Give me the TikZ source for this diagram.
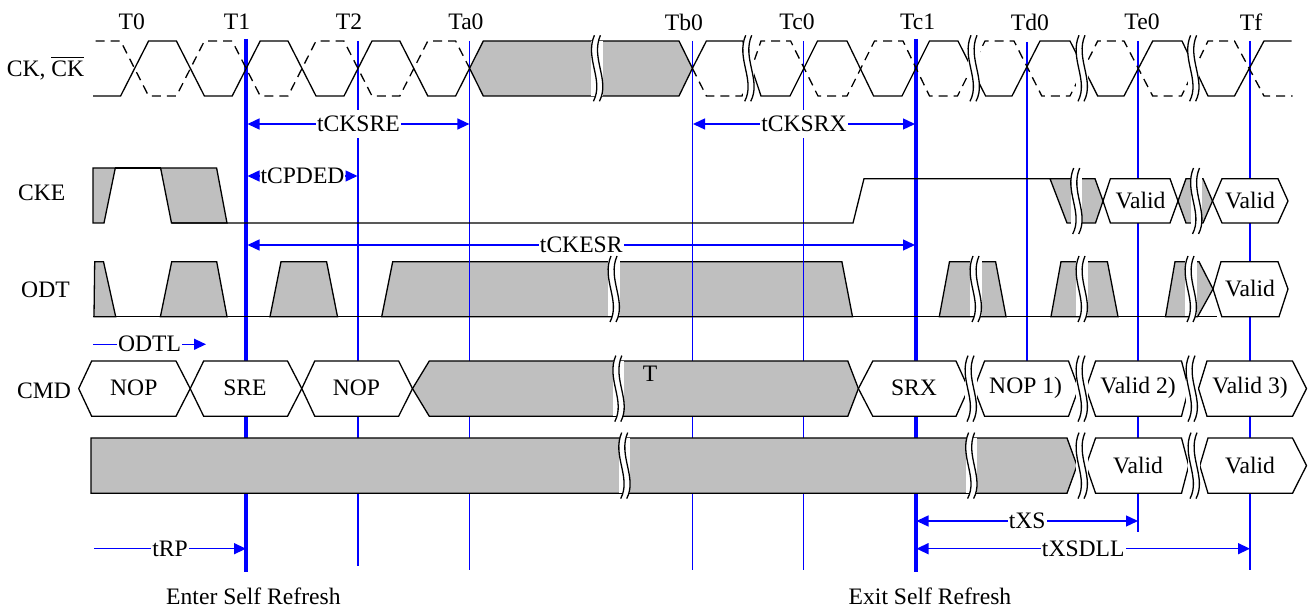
\documentclass[tikz,border=0pt]{standalone}
\usepackage{amsmath}
\usepackage{fontspec}
\setmainfont{Liberation Serif}
\usetikzlibrary{arrows.meta}
\definecolor{wavegray}{gray}{0.75}
\tikzset{
    every node/.style={font=\fontsize{11.8}{14}\selectfont,inner sep=0pt},
    wave/.style={black,line width=0.65pt,line join=miter},
    dashwave/.style={wave,dash pattern=on 4.5pt off 3pt},
    graybox/.style={wave,fill=wavegray},
    whitebox/.style={wave,fill=white},
    clockline/.style={blue,line width=0.7pt},
    edgeline/.style={blue,line width=2pt},
    timeline/.style={blue,line width=0.7pt,>={Triangle[length=6pt,width=5.5pt]}},
    timelabel/.style={fill=white,text=black,inner xsep=0.5pt,minimum height=14pt},
    breakmark/.pic={
        \fill[white] (-5,-27.5) rectangle (6.5,27.5);
        \fill[white] (-2,-33) .. controls (-12,-10) and (8,12) .. (-3,33) -- (3,33) .. controls (14,12) and (-6,-10) .. (4,-33) -- cycle;
        \draw[black,line width=0.65pt] (-2,-33) .. controls (-12,-10) and (8,12) .. (-3,33);
        \draw[black,line width=0.65pt] (4,-33) .. controls (-6,-10) and (14,12) .. (3,33);
    }
}
\begin{document}
\begin{tikzpicture}[x=0.5pt,y=-0.5pt]
    \useasboundingbox (0,0) rectangle (1314,608);
    % clock names
    \node (T0) at (131.7,22) {T0};
    \node (T1) at (237,22) {T1};
    \node (T2) at (349,22) {T2};
    \node (Ta0) at (466,22) {Ta0};
    \node (Tb0) at (684,22) {Tb0};
    \node (Tc0) at (797,22) {Tc0};
    \node (Tc1) at (917.7,22) {Tc1};
    \node (Td0) at (1030,22) {Td0};
    \node (Te0) at (1142,22) {Te0};
    \node (Tf) at (1251,22) {Tf};
    % row names
    \node (CKname) at (45.5,68) {CK, $\overline{\mbox{CK}}$};
    \node (CKEname) at (41.7,193) {CKE};
    \node (ODTname) at (45.5,290) {ODT};
    \node (CMDname) at (44,391) {CMD};
    \node (enter) at (253.4,596) {Enter Self Refresh};
    \node (exit) at (930,596) {Exit Self Refresh};
    % ODT pulses lie under the clock lines
    \draw[graybox] (94.7,261.7) -- (103.5,261.7) -- (115.7,316.7) -- (94,316.7) -- cycle;
    \draw[graybox] (171.7,261.7) -- (216.7,261.7) -- (227,316.7) -- (160.4,316.7) -- cycle;
    \draw[graybox] (281,261.7) -- (326.6,261.7) -- (337.5,316.7) -- (270,316.7) -- cycle;
    \draw[graybox] (392.7,261.7) -- (841.9,261.7) -- (852.5,316.7) -- (381.7,316.7) -- cycle;
    \draw[graybox] (949.5,261.7) -- (995.6,261.7) -- (1006,316.7) -- (939.3,316.7) -- cycle;
    \draw[graybox] (1061,261.7) -- (1107.4,261.7) -- (1118,316.7) -- (1051,316.7) -- cycle;
    \draw[graybox] (1175,261.7) -- (1199,261.7) -- (1213,289) -- (1197.6,316.7) -- (1165.5,316.7) -- cycle;
    % clock lines
    \coordinate (v1t) at (246.4,39);
    \coordinate (v1b) at (246.4,571.7);
    \coordinate (v2t) at (358,41);
    \coordinate (v2b) at (358,565.7);
    \coordinate (v3t) at (469.4,41);
    \coordinate (v3b) at (469.4,570);
    \coordinate (v4t) at (692.4,41);
    \coordinate (v4b) at (692.4,570);
    \coordinate (v5t) at (803.7,41);
    \coordinate (v5b) at (803.7,570);
    \coordinate (v6t) at (915.6,39);
    \coordinate (v6b) at (915.6,571.7);
    \coordinate (v7t) at (1027,42);
    \coordinate (v7b) at (1027,361);
    \coordinate (v8t) at (1138,41);
    \coordinate (v8b) at (1138,532);
    \coordinate (v9t) at (1250,41);
    \coordinate (v9b) at (1250,570);
    \draw[edgeline] (v1t) -- (v1b);
    \draw[clockline] (v2t) -- (v2b);
    \draw[clockline] (v3t) -- (v3b);
    \draw[clockline] (v4t) -- (v4b);
    \draw[clockline] (v5t) -- (v5b);
    \draw[edgeline] (v6t) -- (v6b);
    \draw[clockline] (v7t) -- (v7b);
    \draw[clockline] (v8t) -- (v8b);
    \draw[clockline] (v9t) -- (v9b);
    % timings
    \coordinate (a1) at (247.5,124);
    \coordinate (a2) at (469.4,124);
    \coordinate (b1) at (693,124);
    \coordinate (b2) at (915,124);
    \coordinate (c1) at (247.5,176);
    \coordinate (c2) at (357.5,176);
    \coordinate (d1) at (247.5,245);
    \coordinate (d2) at (915,245);
    \coordinate (e1) at (93,344.3);
    \coordinate (e2) at (206,344.3);
    \coordinate (f1) at (94,548.7);
    \coordinate (f2) at (246,548.7);
    \coordinate (g1) at (916.5,521);
    \coordinate (g2) at (1138,521);
    \coordinate (h1) at (916.5,548.7);
    \coordinate (h2) at (1250,548.7);
    \draw[timeline,<->] (a1) -- node[timelabel] (tCKSRE) {tCKSRE} (a2);
    \draw[timeline,<->] (b1) -- node[timelabel] (tCKSRX) {tCKSRX} (b2);
    \draw[timeline,<->] (c1) -- node[timelabel] (tCPDED) {tCPDED} (c2);
    \draw[timeline,<->] (d1) -- node[timelabel] (tCKESR) {tCKESR} (d2);
    \draw[timeline,->] (e1) -- node[timelabel] (ODTL) {ODTL} (e2);
    \draw[timeline,->] (f1) -- node[timelabel] (tRP) {tRP} (f2);
    \draw[timeline,<->] (g1) -- node[timelabel] (tXS) {tXS} (g2);
    \draw[timeline,<->] (h1) -- node[timelabel] (tXSDLL) {tXSDLL} (h2);
    % CK
    \draw[wave] (93,96) -- (120.6,96) -- (148.6,41) -- (176.4,41) -- (204.4,96) -- (232.2,96) -- (260.2,41) -- (288,41) -- (316,96) -- (344,96) -- (372,41) -- (399.8,41) -- (427.8,96) -- (455.6,96) -- (469.6,68.3);
    \draw[dashwave] (95.5,41) -- (120.6,41) -- (148.6,96) -- (176.4,96) -- (204.4,41) -- (232.2,41) -- (260.2,96) -- (288,96) -- (316,41) -- (344,41) -- (372,96) -- (399.8,96) -- (427.8,41) -- (455.6,41) -- (469.6,68.3);
    \draw[graybox] (469.6,68.3) -- (483.3,41) -- (679,41) -- (692.4,68.3) -- (679,96) -- (483.3,96) -- cycle;
    \draw[dashwave] (692.4,68.3) -- (706.4,96) -- (742,96) -- (761,41) -- (790.6,41) -- (818,96) -- (847,96) -- (874.5,41) -- (903,41) -- (929.5,96) -- (957.5,96) -- (985,41) -- (1014,41) -- (1041.8,96) -- (1070,96) -- (1097.7,41) -- (1124,41) -- (1152.7,96) -- (1181.5,96) -- (1208,41) -- (1234.5,41) -- (1264,96) -- (1292.5,96);
    \draw[wave] (692.4,68.3) -- (706.4,41) -- (742.8,41) -- (761,96) -- (790,96) -- (817.5,41) -- (847,41) -- (873.6,96) -- (902,96) -- (929.5,41) -- (958,41) -- (985.6,96) -- (1012,96) -- (1040,41) -- (1070,41) -- (1097.7,96) -- (1124,96) -- (1152.7,41) -- (1182,41) -- (1208,96) -- (1234.5,96) -- (1264,41) -- (1291.7,41);
    % CKE
    \draw[graybox] (93,168) -- (115.3,168) -- (104,223) -- (93,223) -- cycle;
    \draw[graybox] (160.6,168) -- (216.6,168) -- (227,223) -- (171.5,223) -- cycle;
    \draw[wave] (115.3,168) -- (160.6,168);
    \draw[wave] (171.5,223) -- (853,223) -- (864,178.7) -- (1050,178.7);
    \draw[graybox] (1050,178.7) -- (1095,178.7) -- (1103,201) -- (1095.5,223) -- (1067,223) -- cycle;
    \draw[whitebox] (1103,201) -- (1110.4,178.7) -- (1170,178.7) -- (1178,201) -- (1170,223) -- (1110.4,223) -- cycle;
    \draw[graybox] (1178,201) -- (1186,178.7) -- (1203,178.7) -- (1212.5,201) -- (1203,223) -- (1186,223) -- cycle;
    \draw[whitebox] (1212.5,201) -- (1222,178.7) -- (1278,178.7) -- (1288,201) -- (1278,223) -- (1222,223) -- cycle;
    \node (keValid) at (1140.5,200) {Valid};
    \node (kfValid) at (1250,200) {Valid};
    % ODT
    \draw[wave] (93,316.7) -- (1217,316.7);
    \draw[whitebox] (1213,289) -- (1221,261.7) -- (1278,261.7) -- (1288,289) -- (1279,316.7) -- (1221.8,316.7) -- cycle;
    \node (odValid) at (1250,288) {Valid};
    % CMD
    \draw[whitebox] (78.7,388.6) -- (91.7,361) -- (176,361) -- (190.2,388.6) -- (176,416.3) -- (91.7,416.3) -- cycle;
    \draw[whitebox] (190.2,388.6) -- (203.7,361) -- (287.5,361) -- (301.8,388.6) -- (287.5,416.3) -- (203.7,416.3) -- cycle;
    \draw[whitebox] (301.8,388.6) -- (314.8,361) -- (398.6,361) -- (412.5,388.6) -- (398.6,416.3) -- (314.8,416.3) -- cycle;
    \draw[graybox] (412.5,388.6) -- (429.3,361) -- (847.8,361) -- (858.4,388.6) -- (847.8,416.3) -- (429.3,416.3) -- cycle;
    \draw[whitebox] (858.4,388.6) -- (872.8,361) -- (956,361) -- (968.5,388.6) -- (956,416.3) -- (872.8,416.3) -- cycle;
    \draw[whitebox] (974,388.6) -- (984.6,361) -- (1068.5,361) -- (1078.6,388.6) -- (1068.5,416.3) -- (984.6,416.3) -- cycle;
    \draw[whitebox] (1086,388.6) -- (1095.6,361) -- (1181.5,361) -- (1188.7,388.6) -- (1181.5,416.3) -- (1095.6,416.3) -- cycle;
    \draw[whitebox] (1198.5,388.6) -- (1207,361) -- (1292.5,361) -- (1306.5,388.6) -- (1292.5,416.3) -- (1207,416.3) -- cycle;
    \node (nopA) at (133.8,388) {NOP};
    \node (sre) at (245,388) {SRE};
    \node (nopB) at (356.5,388) {NOP};
    \node (tee) at (650,374) {T};
    \node (srx) at (914,388) {SRX};
    \node (nopC) at (1025.6,388) {NOP 1)};
    \node (valB) at (1138,388) {Valid 2)};
    \node (valC) at (1250,388) {Valid 3)};
    % last row
    \draw[graybox] (91,438) -- (1067,438) -- (1077,465.6) -- (1067,493.3) -- (91,493.3) -- cycle;
    \draw[whitebox] (1086,465.6) -- (1095.6,438) -- (1181.5,438) -- (1188.7,465.6) -- (1181.5,493.3) -- (1095.6,493.3) -- cycle;
    \draw[whitebox] (1199.8,465.6) -- (1208,438) -- (1292.5,438) -- (1306.5,465.6) -- (1292.5,493.3) -- (1208,493.3) -- cycle;
    \node (lastA) at (1138,465) {Valid};
    \node (lastB) at (1250,465) {Valid};
    % breaks
    \pic at (596.4,68.3) {breakmark};
    \pic at (747.7,68.3) {breakmark};
    \pic at (973,68.3) {breakmark};
    \pic at (1081,68.3) {breakmark};
    \pic at (1192.6,68.3) {breakmark};
    \pic at (1075.7,201) {breakmark};
    \pic at (1195.5,201) {breakmark};
    \pic at (613,289) {breakmark};
    \pic at (975,289) {breakmark};
    \pic at (1081,289) {breakmark};
    \pic at (1190,289) {breakmark};
    \pic at (617.8,388.6) {breakmark};
    \pic at (970,388.6) {breakmark};
    \pic at (1081,388.6) {breakmark};
    \pic at (1191,388.6) {breakmark};
    \pic at (623.7,465.6) {breakmark};
    \pic at (970.6,465.6) {breakmark};
    \pic at (1081,465.6) {breakmark};
    \pic at (1193,465.6) {breakmark};
\end{tikzpicture}
\end{document}
